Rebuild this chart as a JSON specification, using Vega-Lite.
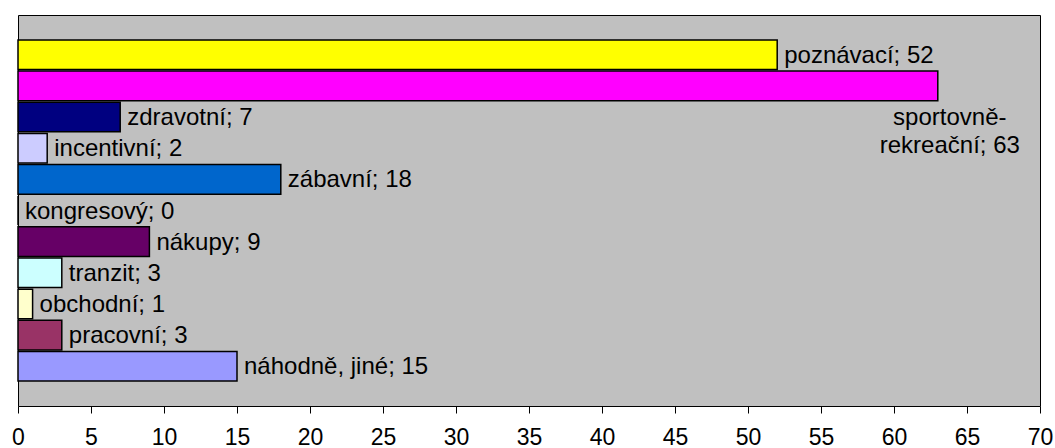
{
  "$schema": "https://vega.github.io/schema/vega-lite/v6.json",
  "width": 1022,
  "height": 391,
  "autosize": {"type": "none"},
  "padding": {"left": 18, "top": 15, "right": 15, "bottom": 42},
  "background": "white",
  "view": {"fill": "#C0C0C0", "stroke": "black", "strokeWidth": 1},
  "data": {
    "values": [
      {"name": "poznávací", "value": 52, "label": "poznávací; 52", "pos": "right"},
      {"name": "sportovně-rekreační", "value": 63, "label": "sportovně-\nrekreační; 63", "pos": "below"},
      {"name": "zdravotní", "value": 7, "label": "zdravotní; 7", "pos": "right"},
      {"name": "incentivní", "value": 2, "label": "incentivní; 2", "pos": "right"},
      {"name": "zábavní", "value": 18, "label": "zábavní; 18", "pos": "right"},
      {"name": "kongresový", "value": 0, "label": "kongresový; 0", "pos": "right"},
      {"name": "nákupy", "value": 9, "label": "nákupy; 9", "pos": "right"},
      {"name": "tranzit", "value": 3, "label": "tranzit; 3", "pos": "right"},
      {"name": "obchodní", "value": 1, "label": "obchodní; 1", "pos": "right"},
      {"name": "pracovní", "value": 3, "label": "pracovní; 3", "pos": "right"},
      {"name": "náhodně, jiné", "value": 15, "label": "náhodně, jiné; 15", "pos": "right"}
    ]
  },
  "encoding": {
    "y": {
      "field": "name",
      "type": "nominal",
      "sort": null,
      "axis": null,
      "scale": {"paddingInner": 0.05, "paddingOuter": 0.8}
    },
    "x": {
      "field": "value",
      "type": "quantitative",
      "scale": {"domain": [0, 70], "nice": false, "zero": true},
      "axis": {
        "values": [0, 5, 10, 15, 20, 25, 30, 35, 40, 45, 50, 55, 60, 65, 70],
        "title": null,
        "grid": false,
        "domain": false,
        "ticks": true,
        "tickColor": "black",
        "tickSize": 7,
        "tickWidth": 1,
        "labelFont": "Liberation Sans",
        "labelFontSize": 23,
        "labelColor": "black",
        "labelPadding": 13,
        "labelFlush": false,
        "labelOverlap": false
      }
    }
  },
  "layer": [
    {
      "mark": {"type": "bar", "stroke": "black", "strokeWidth": 1.5},
      "encoding": {
        "color": {
          "field": "name",
          "type": "nominal",
          "legend": null,
          "scale": {
            "domain": ["poznávací", "sportovně-rekreační", "zdravotní", "incentivní", "zábavní", "kongresový", "nákupy", "tranzit", "obchodní", "pracovní", "náhodně, jiné"],
            "range": ["#FFFF00", "#FF00FF", "#000080", "#CCCCFF", "#0066CC", "#C0C0C0", "#660066", "#CCFFFF", "#FFFFCC", "#993366", "#9999FF"]
          }
        }
      }
    },
    {
      "transform": [{"filter": "datum.pos === 'right'"}],
      "mark": {"type": "text", "align": "left", "baseline": "middle", "dx": 7, "dy": 1, "font": "Liberation Sans", "fontSize": 24, "color": "black", "lineBreak": "\n"},
      "encoding": {"text": {"field": "label"}}
    },
    {
      "transform": [{"filter": "datum.pos === 'below'"}],
      "mark": {"type": "text", "align": "center", "baseline": "top", "dx": 12, "dy": 20, "font": "Liberation Sans", "fontSize": 24, "lineHeight": 28, "color": "black", "lineBreak": "\n"},
      "encoding": {"text": {"field": "label"}}
    }
  ]
}
